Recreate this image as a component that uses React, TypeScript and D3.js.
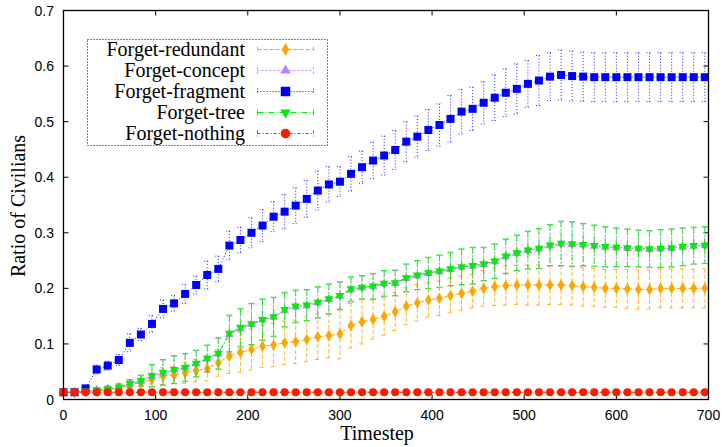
import React, { useEffect, useRef } from 'react';
import * as d3 from 'd3';

// timesteps (every 12 steps)
const timesteps = [
  0, 12, 24, 36, 48, 60, 72, 84, 96, 108, 120, 132, 144, 156, 168, 180, 192, 204, 216, 228,
  240, 252, 264, 276, 288, 300, 312, 324, 336, 348, 360, 372, 384, 396, 408, 420, 432, 444,
  456, 468, 480, 492, 504, 516, 528, 540, 552, 564, 576, 588, 600, 612, 624, 636, 648, 660,
  672, 684, 696,
];

const redundant = [
  0.013, 0.013, 0.014, 0.015, 0.017, 0.021, 0.026, 0.031, 0.036, 0.042, 0.044, 0.048, 0.052,
  0.056, 0.066, 0.078, 0.085, 0.09, 0.096, 0.098, 0.102, 0.104, 0.108, 0.113, 0.115, 0.118,
  0.133, 0.14, 0.144, 0.15, 0.158, 0.168, 0.174, 0.179, 0.182, 0.187, 0.191, 0.195, 0.2, 0.203,
  0.205, 0.206, 0.206, 0.206, 0.206, 0.206, 0.205, 0.203, 0.202, 0.2, 0.2, 0.199, 0.198, 0.198,
  0.2, 0.2, 0.2, 0.2, 0.2,
];
const redundantErr = [
  0.001, 0.001, 0.002, 0.003, 0.003, 0.004, 0.005, 0.007, 0.008, 0.015, 0.015, 0.019, 0.02,
  0.022, 0.024, 0.031, 0.036, 0.037, 0.038, 0.039, 0.039, 0.039, 0.04, 0.041, 0.04, 0.045,
  0.04, 0.04, 0.035, 0.034, 0.034, 0.033, 0.033, 0.031, 0.031, 0.031, 0.031, 0.03, 0.032,
  0.034, 0.035, 0.035, 0.036, 0.036, 0.035, 0.035, 0.035, 0.035, 0.034, 0.034, 0.034, 0.035,
  0.035, 0.035, 0.035, 0.035, 0.035, 0.035, 0.035,
];

const concept = [
  0.013, 0.013, 0.015, 0.017, 0.019, 0.022, 0.028, 0.033, 0.042, 0.048, 0.053, 0.057, 0.064,
  0.073, 0.082, 0.117, 0.127, 0.135, 0.143, 0.148, 0.16, 0.167, 0.169, 0.174, 0.18, 0.186,
  0.197, 0.201, 0.203, 0.208, 0.209, 0.218, 0.223, 0.227, 0.23, 0.234, 0.238, 0.24, 0.243,
  0.248, 0.257, 0.263, 0.268, 0.271, 0.277, 0.28, 0.279, 0.278, 0.276, 0.274, 0.273, 0.272,
  0.271, 0.27, 0.271, 0.272, 0.274, 0.276, 0.277,
];
const conceptErr = [
  0.001, 0.002, 0.003, 0.004, 0.005, 0.006, 0.007, 0.01, 0.02, 0.023, 0.025, 0.025, 0.024,
  0.024, 0.028, 0.033, 0.034, 0.037, 0.037, 0.035, 0.031, 0.029, 0.028, 0.028, 0.027, 0.025,
  0.022, 0.021, 0.023, 0.023, 0.023, 0.025, 0.026, 0.028, 0.029, 0.03, 0.032, 0.033, 0.03,
  0.031, 0.031, 0.032, 0.034, 0.036, 0.037, 0.04, 0.04, 0.038, 0.037, 0.036, 0.035, 0.034,
  0.033, 0.033, 0.034, 0.034, 0.034, 0.033, 0.033,
];

const fragment = [
  0.013, 0.013, 0.02, 0.054, 0.061, 0.071, 0.102, 0.117, 0.136, 0.163, 0.173, 0.19, 0.206,
  0.224, 0.235, 0.277, 0.287, 0.3, 0.313, 0.329, 0.338, 0.349, 0.361, 0.376, 0.387, 0.392,
  0.406, 0.418, 0.43, 0.439, 0.449, 0.464, 0.473, 0.485, 0.494, 0.505, 0.518, 0.523, 0.534,
  0.543, 0.552, 0.559, 0.568, 0.574, 0.581, 0.584, 0.582, 0.581, 0.58, 0.58, 0.58, 0.58, 0.58,
  0.58, 0.58, 0.58, 0.58, 0.58, 0.58,
];
const fragmentErr = [
  0.002, 0.002, 0.004, 0.008, 0.008, 0.01, 0.016, 0.011, 0.015, 0.016, 0.014, 0.017, 0.016,
  0.025, 0.023, 0.026, 0.023, 0.027, 0.029, 0.027, 0.031, 0.032, 0.033, 0.035, 0.032, 0.027,
  0.031, 0.029, 0.033, 0.035, 0.035, 0.036, 0.037, 0.037, 0.038, 0.042, 0.04, 0.039, 0.038,
  0.041, 0.043, 0.045, 0.042, 0.045, 0.043, 0.045, 0.045, 0.044, 0.044, 0.044, 0.044, 0.044,
  0.044, 0.044, 0.044, 0.044, 0.044, 0.044, 0.044,
];

const tree = [
  0.013, 0.013, 0.015, 0.017, 0.019, 0.022, 0.029, 0.034, 0.043, 0.049, 0.054, 0.058, 0.065,
  0.074, 0.083, 0.119, 0.13, 0.136, 0.144, 0.149, 0.162, 0.168, 0.17, 0.175, 0.181, 0.187,
  0.199, 0.202, 0.204, 0.209, 0.21, 0.219, 0.224, 0.228, 0.231, 0.235, 0.239, 0.241, 0.244,
  0.249, 0.258, 0.264, 0.269, 0.272, 0.278, 0.281, 0.28, 0.279, 0.277, 0.275, 0.274, 0.273,
  0.272, 0.271, 0.272, 0.273, 0.275, 0.277, 0.278,
];
const treeErr = [
  0.001, 0.002, 0.003, 0.004, 0.005, 0.006, 0.007, 0.01, 0.02, 0.023, 0.025, 0.025, 0.024,
  0.024, 0.028, 0.033, 0.034, 0.037, 0.037, 0.035, 0.031, 0.029, 0.028, 0.028, 0.027, 0.025,
  0.022, 0.021, 0.023, 0.023, 0.023, 0.025, 0.026, 0.028, 0.029, 0.03, 0.032, 0.033, 0.03,
  0.031, 0.031, 0.032, 0.034, 0.036, 0.037, 0.04, 0.04, 0.038, 0.037, 0.036, 0.035, 0.034,
  0.033, 0.033, 0.034, 0.034, 0.034, 0.033, 0.033,
];

const nothing = [
  0.013, 0.013, 0.013, 0.013, 0.013, 0.013, 0.013, 0.013, 0.013, 0.013, 0.013, 0.013, 0.013,
  0.013, 0.013, 0.013, 0.013, 0.013, 0.013, 0.013, 0.013, 0.013, 0.013, 0.013, 0.013, 0.013,
  0.013, 0.013, 0.013, 0.013, 0.013, 0.013, 0.013, 0.013, 0.013, 0.013, 0.013, 0.013, 0.013,
  0.013, 0.013, 0.013, 0.013, 0.013, 0.013, 0.013, 0.013, 0.013, 0.013, 0.013, 0.013, 0.013,
  0.013, 0.013, 0.013, 0.013, 0.013, 0.013, 0.013,
];
const nothingErr = [
  0.001, 0.001, 0.001, 0.001, 0.001, 0.001, 0.001, 0.001, 0.001, 0.001, 0.001, 0.001, 0.001,
  0.001, 0.001, 0.001, 0.001, 0.001, 0.001, 0.001, 0.001, 0.001, 0.001, 0.001, 0.001, 0.001,
  0.001, 0.001, 0.001, 0.001, 0.001, 0.001, 0.001, 0.001, 0.001, 0.001, 0.001, 0.001, 0.001,
  0.001, 0.001, 0.001, 0.001, 0.001, 0.001, 0.001, 0.001, 0.001, 0.001, 0.001, 0.001, 0.001,
  0.001, 0.001, 0.001, 0.001, 0.001, 0.001, 0.001,
];

const xTicks = [0, 100, 200, 300, 400, 500, 600, 700];
const yTicks = [0, 0.1, 0.2, 0.3, 0.4, 0.5, 0.6, 0.7];

// drawing order = legend order (last one on top)
const series = [
  { name: 'Forget-redundant', values: redundant, err: redundantErr, color: '#ffa500', dash: '4,2', symbol: d3.symbolDiamond, size: 40, rotate: 0, legSize: 50 },
  { name: 'Forget-concept', values: concept, err: conceptErr, color: '#b784ff', dash: '2,2', symbol: d3.symbolTriangle, size: 34, rotate: 0, legSize: 48 },
  { name: 'Forget-fragment', values: fragment, err: fragmentErr, color: '#0000ff', dash: '1,2', symbol: d3.symbolSquare, size: 64, rotate: 0, legSize: 90 },
  { name: 'Forget-tree', values: tree, err: treeErr, color: '#00ee00', dash: '6,2,1,2', symbol: d3.symbolTriangle, size: 34, rotate: 180, legSize: 48 },
  { name: 'Forget-nothing', values: nothing, err: nothingErr, color: '#ff1a00', dash: '3,2,1,2', symbol: d3.symbolCircle, size: 52, rotate: 0, legSize: 72 },
];

const App = () => {
  const chartRef = useRef(null);

  useEffect(() => {
    const width = 722;
    const height = 447;
    const serif = '"Liberation Serif", "Times New Roman", serif';
    const sans = '"Liberation Sans", Arial, sans-serif';

    const x = d3.scaleLinear().domain([0, 700]).range([63.5, 708.5]);
    const y = d3.scaleLinear().domain([0, 0.7]).range([399.5, 10.5]);

    d3.select(chartRef.current).selectAll('*').remove();
    const svg = d3
      .select(chartRef.current)
      .append('svg')
      .attr('width', width)
      .attr('height', height)
      .style('display', 'block')
      .style('background', '#fff');

    // ticks (inward, mirrored)
    const tickLen = 5;
    const axes = svg.append('g').attr('stroke', '#000').attr('stroke-width', 1);
    xTicks.forEach(t => {
      axes.append('line').attr('x1', x(t)).attr('x2', x(t)).attr('y1', y(0)).attr('y2', y(0) - tickLen);
      axes.append('line').attr('x1', x(t)).attr('x2', x(t)).attr('y1', y(0.7)).attr('y2', y(0.7) + tickLen);
    });
    yTicks.forEach(t => {
      axes.append('line').attr('x1', x(0)).attr('x2', x(0) + tickLen).attr('y1', y(t)).attr('y2', y(t));
      axes.append('line').attr('x1', x(700)).attr('x2', x(700) - tickLen).attr('y1', y(t)).attr('y2', y(t));
    });

    svg
      .selectAll('.xlab')
      .data(xTicks)
      .enter()
      .append('text')
      .attr('class', 'xlab')
      .attr('x', d => x(d))
      .attr('y', 420)
      .attr('text-anchor', 'middle')
      .style('font-family', sans)
      .style('font-size', '14px')
      .text(d => d);

    svg
      .selectAll('.ylab')
      .data(yTicks)
      .enter()
      .append('text')
      .attr('class', 'ylab')
      .attr('x', 54)
      .attr('y', d => y(d) + 5)
      .attr('text-anchor', 'end')
      .style('font-family', sans)
      .style('font-size', '14px')
      .text(d => (d === 0 ? '0' : d3.format('.1f')(d)));

    // axis titles
    svg
      .append('text')
      .attr('x', 377)
      .attr('y', 440)
      .attr('text-anchor', 'middle')
      .style('font-family', serif)
      .style('font-size', '20px')
      .text('Timestep');

    svg
      .append('text')
      .attr('transform', 'translate(25,206) rotate(-90)')
      .attr('text-anchor', 'middle')
      .style('font-family', serif)
      .style('font-size', '20px')
      .text('Ratio of Civilians');

    // series: error bars, line, points
    const cap = 3;
    series.forEach(s => {
      const g = svg.append('g');
      const pts = timesteps.map((t, i) => ({ t, v: s.values[i], e: s.err[i] }));

      const eb = g
        .append('g')
        .attr('stroke', s.color)
        .attr('stroke-width', 1)
        .attr('stroke-dasharray', s.dash)
        .attr('opacity', 0.85);
      pts.forEach(p => {
        const x0 = x(p.t);
        const y1 = y(p.v + p.e);
        const y2 = y(p.v - p.e);
        eb.append('line').attr('x1', x0).attr('x2', x0).attr('y1', y1).attr('y2', y2);
        eb.append('line').attr('x1', x0 - cap).attr('x2', x0 + cap).attr('y1', y1).attr('y2', y1);
        eb.append('line').attr('x1', x0 - cap).attr('x2', x0 + cap).attr('y1', y2).attr('y2', y2);
      });

      const line = d3
        .line()
        .x(d => x(d.t))
        .y(d => y(d.v));
      g.append('path')
        .datum(pts)
        .attr('fill', 'none')
        .attr('stroke', s.color)
        .attr('stroke-width', 1)
        .attr('stroke-dasharray', s.dash)
        .attr('d', line);

      g.selectAll('.pt')
        .data(pts)
        .enter()
        .append('path')
        .attr('d', d3.symbol().type(s.symbol).size(s.size)())
        .attr('transform', d => `translate(${x(d.t)},${y(d.v)}) rotate(${s.rotate})`)
        .attr('fill', s.color);
    });

    // border
    svg
      .append('rect')
      .attr('x', x(0))
      .attr('y', y(0.7))
      .attr('width', x(700) - x(0))
      .attr('height', y(0) - y(0.7))
      .attr('fill', 'none')
      .attr('stroke', '#000')
      .attr('stroke-width', 1.3);

    // legend
    const legend = svg.append('g');
    legend
      .append('rect')
      .attr('x', 87.5)
      .attr('y', 39.5)
      .attr('width', 240)
      .attr('height', 106)
      .attr('fill', '#fff')
      .attr('stroke', '#000')
      .attr('stroke-width', 1)
      .attr('stroke-dasharray', '1,2');

    series.forEach((s, i) => {
      const ly = 49.5 + i * 21;
      legend
        .append('text')
        .attr('x', 245)
        .attr('y', ly + 6)
        .attr('text-anchor', 'end')
        .style('font-family', serif)
        .style('font-size', '20px')
        .text(s.name);
      const lg = legend
        .append('g')
        .attr('stroke', s.color)
        .attr('stroke-width', 1)
        .attr('stroke-dasharray', s.dash);
      lg.append('line').attr('x1', 257.5).attr('x2', 313.5).attr('y1', ly).attr('y2', ly);
      lg.append('line').attr('x1', 257.5).attr('x2', 257.5).attr('y1', ly - 3).attr('y2', ly + 3).attr('stroke-dasharray', null);
      lg.append('line').attr('x1', 313.5).attr('x2', 313.5).attr('y1', ly - 3).attr('y2', ly + 3).attr('stroke-dasharray', null);
      legend
        .append('path')
        .attr('d', d3.symbol().type(s.symbol).size(s.legSize)())
        .attr('transform', `translate(285.5,${ly}) rotate(${s.rotate})`)
        .attr('fill', s.color);
    });
  }, []);

  return <div ref={chartRef} style={{ position: 'absolute', left: 0, top: 0 }}></div>;
};

export default App;
